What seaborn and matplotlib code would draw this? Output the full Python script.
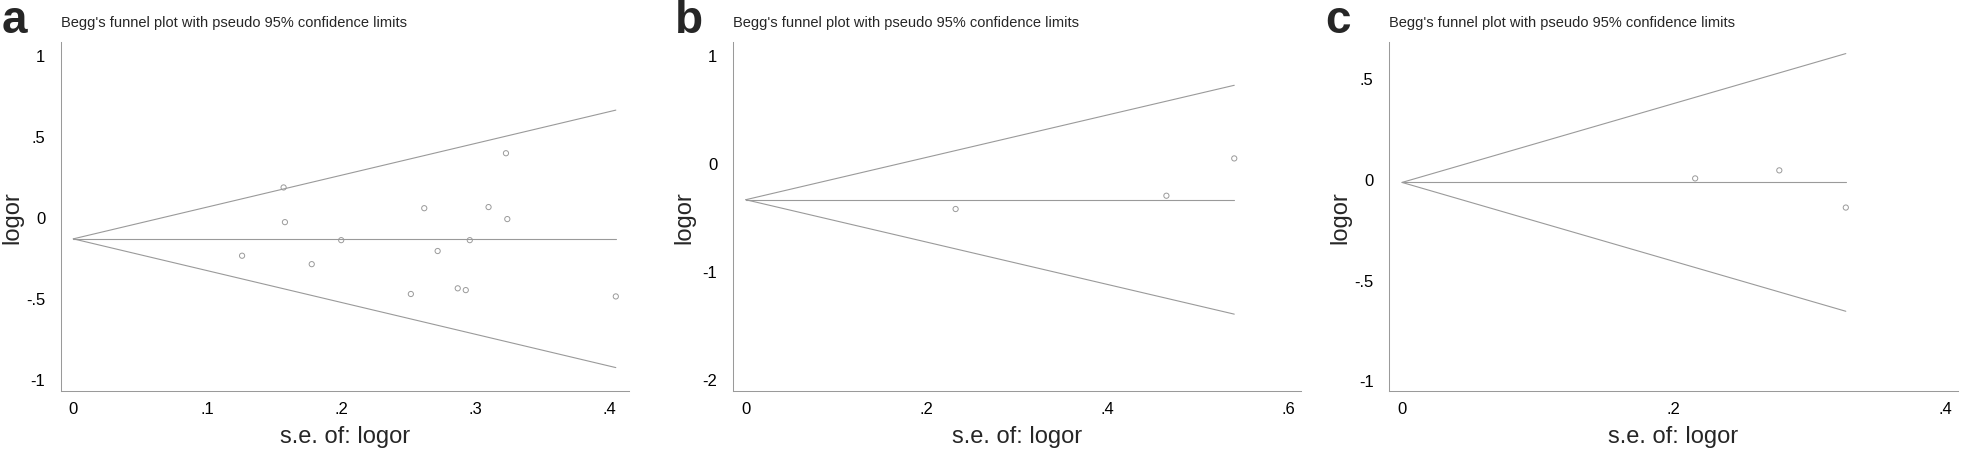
import matplotlib
matplotlib.use("Agg")
import matplotlib.pyplot as plt
import pandas as pd
import seaborn as sns

# values (Begg's funnel plots)
se_a = [0.126, 0.157, 0.158, 0.178, 0.200, 0.252, 0.262, 0.272, 0.287, 0.293, 0.296, 0.310, 0.323, 0.324, 0.405]
logor_a = [-0.238, 0.183, -0.031, -0.290, -0.142, -0.474, 0.055, -0.209, -0.439, -0.450, -0.142, 0.062, 0.394, -0.012, -0.489]
pooled_a = -0.134

se_b = [0.232, 0.465, 0.540]
logor_b = [-0.425, -0.302, 0.043]
pooled_b = -0.339

se_c = [0.216, 0.278, 0.327]
logor_c = [0.003, 0.043, -0.142]
pooled_c = -0.017

letters = ["a", "b", "c"]
title = "Begg's funnel plot with pseudo 95% confidence limits"
xticks = [[0, 0.1, 0.2, 0.3, 0.4], [0, 0.2, 0.4, 0.6], [0, 0.2, 0.4]]
yticks = [[-1, -0.5, 0, 0.5, 1], [-2, -1, 0, 1], [-1, -0.5, 0, 0.5]]


def stata_label(v):
    # Stata style: drop the leading zero (.5, -.5)
    s = "%g" % v
    return s if s == "0" else s.replace("0.", ".")


sns.set_style("white")
plt.rcParams['font.family'] = ['Liberation Sans', 'DejaVu Sans']

gray = "#9a9a9a"
fig = plt.figure(figsize=(19.61, 4.52), dpi=100)

# axes placement (figure fractions) and data limits
lefts = [60.7 / 1961, 732.7 / 1961, 1389 / 1961]
width = 568.5 / 1961
bottom = (452 - 392.3) / 452
height = 349 / 452
xlims = [(-0.0094, 0.415), (-0.0144, 0.614), (-0.0096, 0.4093)]
ylims = [(-1.074, 1.078), (-2.111, 1.117), (-1.056, 0.68)]
letter_x = [2, 675, 1325]

panels = [(se_a, logor_a, pooled_a), (se_b, logor_b, pooled_b), (se_c, logor_c, pooled_c)]

for i, (se, lo, pooled) in enumerate(panels):
    ax = fig.add_axes([lefts[i], bottom, width, height])
    df = pd.DataFrame({"se": se, "logor": lo})

    # funnel: pooled estimate +/- 1.96 * se, from 0 to the largest se
    smax = max(se)
    fun = pd.DataFrame({"x": [0, smax], "mid": [pooled, pooled],
                        "up": [pooled, pooled + 1.96 * smax],
                        "lo": [pooled, pooled - 1.96 * smax]})
    for col in ["up", "mid", "lo"]:
        sns.lineplot(data=fun, x="x", y=col, ax=ax, color=gray, linewidth=0.8)

    sns.scatterplot(data=df, x="se", y="logor", ax=ax, marker="o", s=14,
                    facecolors="none", edgecolor=gray, linewidth=0.7, zorder=3)

    ax.set_xlim(*xlims[i])
    ax.set_ylim(*ylims[i])
    ax.set_xticks(xticks[i])
    ax.set_xticklabels([stata_label(v) for v in xticks[i]])
    ax.set_yticks(yticks[i])
    ax.set_yticklabels([stata_label(v) for v in yticks[i]])
    ax.tick_params(axis="both", direction="out", length=6, width=0.75, color=gray,
                   labelsize=12, labelcolor="black")
    ax.tick_params(axis="y", pad=5)
    ax.tick_params(axis="x", pad=1)
    sns.despine(ax=ax)
    for sp in ["left", "bottom"]:
        ax.spines[sp].set_color(gray)
        ax.spines[sp].set_linewidth(0.75)

    ax.set_xlabel("s.e. of: logor", fontsize=17)
    ax.set_ylabel("logor", fontsize=17)
    ax.xaxis.set_label_coords(0.5, -0.097)
    ax.yaxis.set_label_coords(-0.066, 0.5)

    fig.text(lefts[i], (452 - 27) / 452, title, fontsize=10.5, ha="left", va="baseline")
    fig.text(letter_x[i] / 1961, (452 - 33) / 452, letters[i], fontsize=33,
             fontweight="bold", ha="left", va="baseline")

fig.savefig("out.png", dpi=100)
